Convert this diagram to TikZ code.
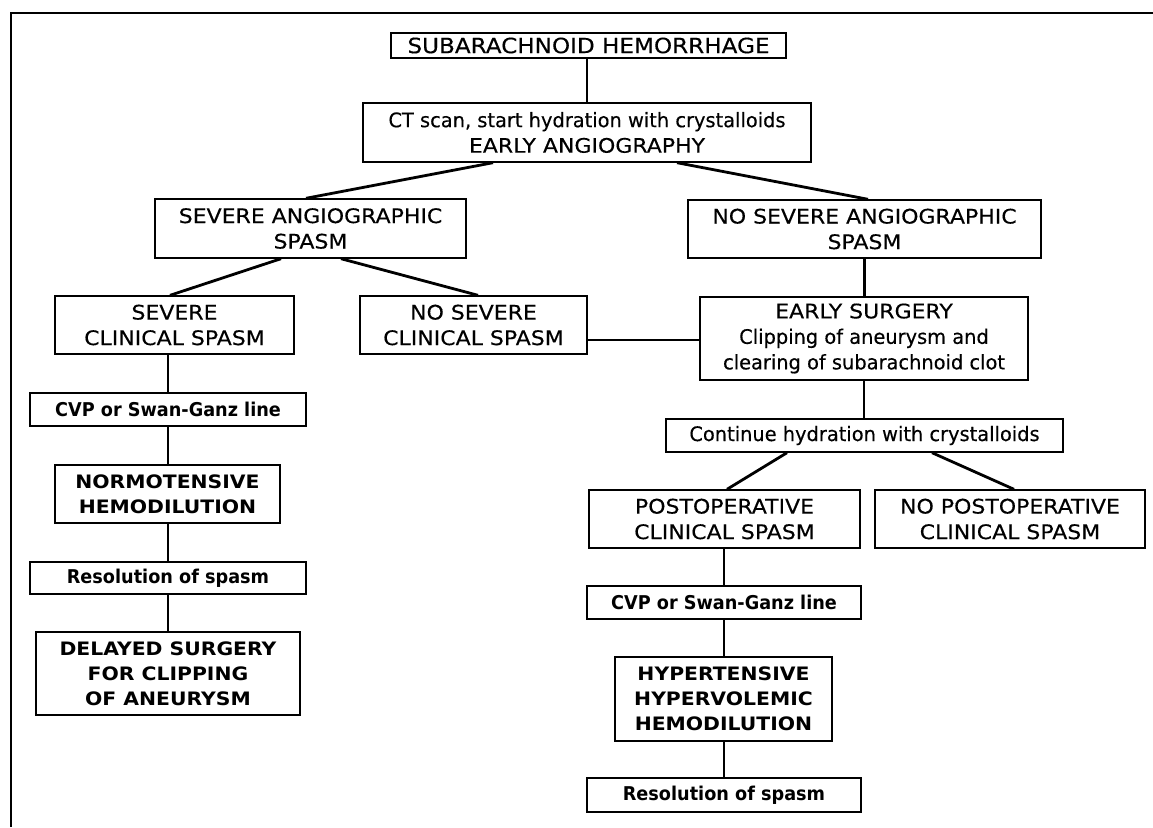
\documentclass[tikz,border=0pt]{standalone}
\usepackage{fontspec}
\setmainfont{DejaVu Sans}[FakeStretch=1.1, UprightFeatures={FakeBold=0.35}]
\newfontfamily\lcfont{DejaVu Sans}[FakeStretch=0.97, UprightFeatures={FakeBold=0.35}]
\newfontfamily\lcbfont{DejaVu Sans Bold}[FakeStretch=0.93]
\usetikzlibrary{calc}
\tikzset{
  box/.style={draw, line width=1.4pt, align=center, inner sep=0pt,
    font=\fontsize{20}{25.5}\selectfont},
  boldbox/.style={box, font=\fontsize{18.5}{25}\selectfont\bfseries},
  lcbox/.style={box, font=\fontsize{19}{24}\selectfont\lcbfont},
  conn/.style={line width=2.8pt},
  frame/.style={line width=2.5pt}
}
\newcommand{\lcline}[1]{{\fontsize{20}{25.5}\selectfont\lcfont #1}}
\begin{document}
\begin{tikzpicture}[x=1pt,y=-1pt]
\useasboundingbox (0,0) rectangle (1153,827);
\draw[frame] (11,827) -- (11,13) -- (1153,13);

\node[box, minimum width=395pt, minimum height=25pt, font=\fontsize{21}{25}\selectfont] (sah) at (588.5,45.5) {SUBARACHNOID HEMORRHAGE};
\node[box, minimum width=448pt, minimum height=59pt] (ct) at (587,132.5) {\lcline{CT scan, start hydration with crystalloids}\\EARLY ANGIOGRAPHY};
\node[box, minimum width=311pt, minimum height=59pt] (sas) at (310.5,228.5) {SEVERE ANGIOGRAPHIC\\SPASM};
\node[box, minimum width=353pt, minimum height=58pt] (nsas) at (864.5,229) {NO SEVERE ANGIOGRAPHIC\\SPASM};
\node[box, minimum width=239pt, minimum height=58pt] (scs) at (174.5,325) {SEVERE\\CLINICAL SPASM};
\node[box, minimum width=227pt, minimum height=58pt] (nscs) at (473.5,325) {NO SEVERE\\CLINICAL SPASM};
\node[box, minimum width=328pt, minimum height=83pt] (es) at (864,338.5) {EARLY SURGERY\\\lcline{Clipping of aneurysm and}\\\lcline{clearing of subarachnoid clot}};
\node[lcbox, minimum width=276pt, minimum height=33pt] (cvpa) at (168,409.5) {CVP or Swan-Ganz line};
\node[boldbox, minimum width=225pt, minimum height=58pt] (nh) at (167.5,494) {NORMOTENSIVE\\HEMODILUTION};
\node[lcbox, minimum width=276pt, minimum height=32pt] (resa) at (168,578) {Resolution of spasm};
\node[boldbox, minimum width=264pt, minimum height=83pt] (ds) at (168,673.5) {DELAYED SURGERY\\FOR CLIPPING\\OF ANEURYSM};
\node[box, minimum width=397pt, minimum height=33pt] (ch) at (864.5,435.5) {\lcline{Continue hydration with crystalloids}};
\node[box, minimum width=271pt, minimum height=58pt] (pocs) at (724.5,519) {POSTOPERATIVE\\CLINICAL SPASM};
\node[box, minimum width=270pt, minimum height=58pt] (npocs) at (1010,519) {NO POSTOPERATIVE\\CLINICAL SPASM};
\node[lcbox, minimum width=274pt, minimum height=33pt] (cvpb) at (724,602.5) {CVP or Swan-Ganz line};
\node[boldbox, minimum width=217pt, minimum height=84pt] (hhh) at (723.5,699) {HYPERTENSIVE\\HYPERVOLEMIC\\HEMODILUTION};
\node[lcbox, minimum width=274pt, minimum height=34pt] (resb) at (724,795) {Resolution of spasm};

\draw[conn] (sah.south -| ct.north) -- (ct.north);
\draw[conn] ([xshift=-94pt]ct.south) -- ([xshift=-4.5pt]sas.north);
\draw[conn] ([xshift=90pt]ct.south) -- ([xshift=3.5pt]nsas.north);
\draw[conn] ([xshift=-29.5pt]sas.south) -- ([xshift=-4.5pt]scs.north);
\draw[conn] ([xshift=30.5pt]sas.south) -- ([xshift=4.5pt]nscs.north);
\draw[conn] ([yshift=-15pt]nscs.east) -- ([yshift=-15pt]nscs.east -| es.west);
\draw[conn] (nsas.south) -- (nsas.south |- es.north);
\draw[conn] (es.south) -- (es.south |- ch.north);
\draw[conn] ([xshift=-77.5pt]ch.south) -- ([xshift=2.5pt]pocs.north);
\draw[conn] ([xshift=67.5pt]ch.south) -- ([xshift=4pt]npocs.north);
\draw[conn] (scs.south -| cvpa.north) -- (cvpa.north);
\draw[conn] (cvpa.south) -- (nh.north -| cvpa.south);
\draw[conn] (nh.south -| resa.north) -- (resa.north);
\draw[conn] (resa.south) -- (ds.north);
\draw[conn] (pocs.south -| cvpb.north) -- (cvpb.north);
\draw[conn] (cvpb.south) -- (hhh.north -| cvpb.south);
\draw[conn] (hhh.south -| resb.north) -- (resb.north);
\end{tikzpicture}
\end{document}
